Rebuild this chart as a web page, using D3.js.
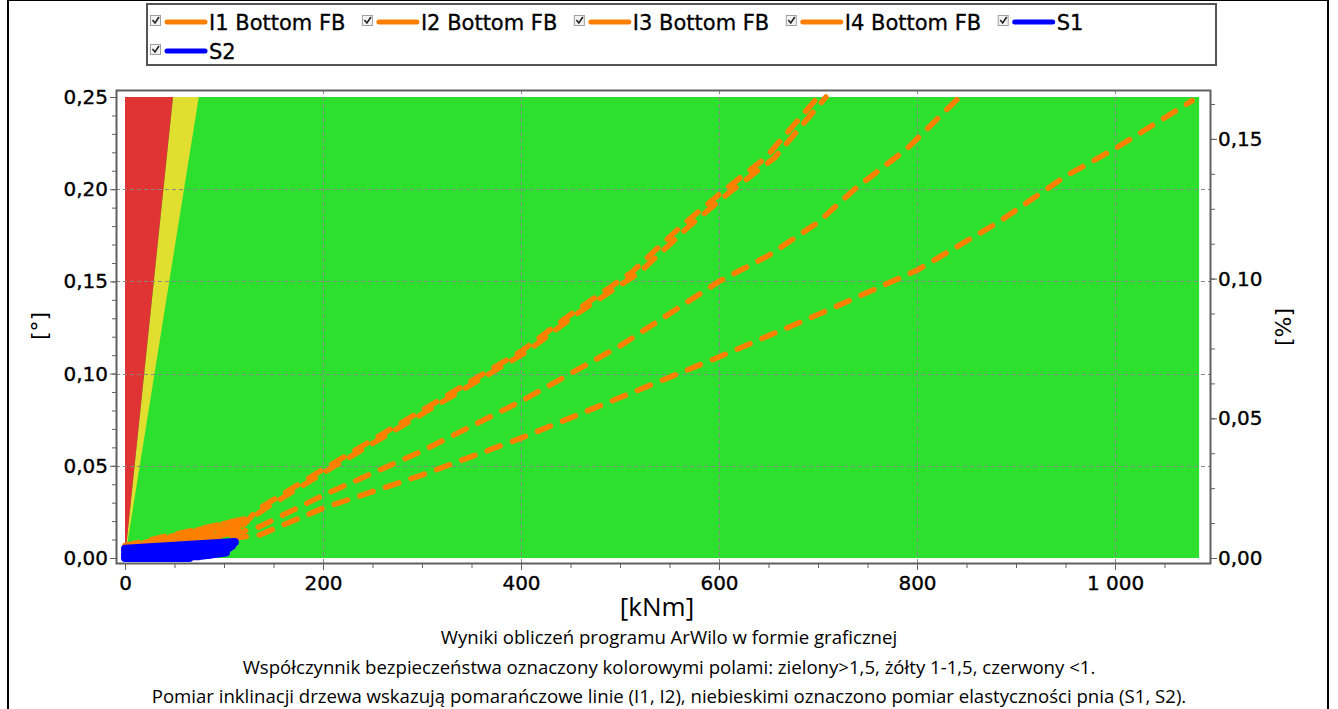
<!DOCTYPE html>
<html>
<head>
<meta charset="utf-8">
<script src="https://cdn.jsdelivr.net/npm/d3@7"></script>
<style>
  html, body { margin: 0; padding: 0; background: #fff; }
  svg { display: block; }
</style>
</head>
<body>
<div id="chart"></div>
<script>
// ---- data ----
var xTicks = [0, 200, 400, 600, 800, 1000];
var xTickLabels = ["0", "200", "400", "600", "800", "1 000"];
var yTicks = [0, 0.05, 0.10, 0.15, 0.20, 0.25];
var yTickLabels = ["0,00", "0,05", "0,10", "0,15", "0,20", "0,25"];
var y2Ticks = [0, 0.05, 0.10, 0.15];
var y2TickLabels = ["0,00", "0,05", "0,10", "0,15"];

// safety-factor zones, [kNm, deg] corners
var zoneRed = [[0, 0], [0, 0.25], [48.5, 0.25]];
var zoneYellow = [[0, 0], [48.5, 0.25], [74.5, 0.25]];
var zoneGreen = [[0, 0], [0, 0.25], [1085, 0.25], [1085, 0]];

var seriesNames = ["I1 Bottom FB", "I2 Bottom FB", "I3 Bottom FB", "I4 Bottom FB", "S1", "S2"];
var seriesColors = ["#ff8000", "#ff8000", "#ff8000", "#ff8000", "#0000ff", "#0000ff"];

// [kNm, deg]
var i1 = [[0,0.0068],[123,0.0215],[0,0.0058],[118,0.017],[8,0.0062],[112,0.0135],[130,0.024],[136,0.027],[200,0.048],[250,0.064],[300,0.080],[350,0.096],[400,0.112],[450,0.132],[512,0.155],[562,0.180],[602,0.198],[647,0.217],[700,0.250]];
var i2 = [[0,0.0062],[60,0.0125],[125,0.0205],[20,0.0075],[121,0.019],[142,0.027],[206,0.048],[306,0.080],[406,0.112],[458,0.133],[520,0.155],[570,0.180],[610,0.198],[656,0.217],[708,0.250]];
var i3 = [[0,0.0055],[60,0.0095],[120,0.0145],[136,0.017],[200,0.034],[300,0.058],[400,0.085],[500,0.115],[600,0.150],[650,0.164],[700,0.182],[737,0.200],[790,0.222],[843,0.250]];
var i4 = [[0,0.005],[50,0.0075],[105,0.0105],[136,0.0125],[200,0.027],[300,0.045],[400,0.065],[500,0.087],[600,0.109],[700,0.132],[800,0.156],[882,0.182],[950,0.207],[1000,0.222],[1078,0.248]];
var s1 = [[0,0],[65,0],[0,0.0022],[85,0.0018],[100,0.004],[0,0.0042],[108,0.0065],[0,0.005],[111,0.0087],[60,0.0068]];
var s2 = [[0,0.001],[75,0.001],[102,0.003],[20,0.003],[105,0.0055],[40,0.006],[110,0.008],[100,0.0045]];
var seriesData = [i1, i2, i3, i4, s1, s2];

var captions = [
  "Wyniki obliczeń programu ArWilo w formie graficznej",
  "Współczynnik bezpieczeństwa oznaczony kolorowymi polami: zielony>1,5, żółty 1-1,5, czerwony <1.",
  "Pomiar inklinacji drzewa wskazują pomarańczowe linie (I1, I2), niebieskimi oznaczono pomiar elastyczności pnia (S1, S2)."
];

// ---- layout ----
var width = 1338, height = 709;
var frame = {left: 116, top: 90, right: 1210, bottom: 563};
var tickFont = "'DejaVu Sans', Verdana, sans-serif";
var capFont = "'Open Sans', 'Noto Sans', sans-serif";

var svg = d3.select("#chart").append("svg")
    .attr("width", width)
    .attr("height", height);

// outer black border
svg.append("rect")
    .attr("x", 8).attr("y", 0)
    .attr("width", 1320).attr("height", 720)
    .attr("fill", "none")
    .attr("stroke", "#000")
    .attr("stroke-width", 2);

var x = d3.scaleLinear().domain([0, 1000]).range([125, 1115]);
var y = d3.scaleLinear().domain([0, 0.25]).range([558, 97]);
var y2 = d3.scaleLinear().domain([0, 0.165]).range([558, 97]);

var line = d3.line()
    .x(function(d) { return x(d[0]); })
    .y(function(d) { return y(d[1]); });

// zones
var zones = [[zoneGreen, "#2ee02e"], [zoneYellow, "#e0df30"], [zoneRed, "#e03434"]];
svg.append("g").selectAll("path")
    .data(zones)
    .enter().append("path")
    .attr("d", function(d) { return line(d[0]) + "Z"; })
    .attr("fill", function(d) { return d[1]; });

// gridlines
var grid = svg.append("g")
    .attr("stroke", "#888")
    .attr("stroke-width", 1)
    .attr("stroke-dasharray", "4,3");
grid.selectAll("line.vx")
    .data(xTicks.filter(function(d) { return d > 0; }))
    .enter().append("line")
    .attr("x1", function(d) { return Math.round(x(d)) + 0.5; })
    .attr("x2", function(d) { return Math.round(x(d)) + 0.5; })
    .attr("y1", frame.top)
    .attr("y2", frame.bottom);
grid.selectAll("line.hy")
    .data(yTicks.filter(function(d) { return d > 0 && d < 0.25; }))
    .enter().append("line")
    .attr("x1", frame.left)
    .attr("x2", frame.right)
    .attr("y1", function(d) { return Math.round(y(d)) + 0.5; })
    .attr("y2", function(d) { return Math.round(y(d)) + 0.5; });

// series
svg.append("g").selectAll("path")
    .data(seriesData)
    .enter().append("path")
    .attr("d", line)
    .attr("fill", "none")
    .attr("stroke", function(d, i) { return seriesColors[i]; })
    .attr("stroke-width", function(d, i) { return i < 4 ? 5.5 : 8; })
    .attr("stroke-linecap", "round")
    .attr("stroke-linejoin", "round")
    .attr("stroke-dasharray", function(d, i) { return i < 4 ? "14,13" : null; });

// frame
svg.append("rect")
    .attr("x", frame.left + 0.5).attr("y", frame.top + 0.5)
    .attr("width", frame.right - frame.left).attr("height", frame.bottom - frame.top)
    .attr("fill", "none")
    .attr("stroke", "#606060")
    .attr("stroke-width", 2);

// axes
function styleAxis(g) {
  g.select(".domain").remove();
  g.selectAll(".tick line").attr("stroke", "#606060");
  g.selectAll("text").attr("fill", "#000")
    .attr("stroke", "#000").attr("stroke-width", 0.35)
    .style("font-family", tickFont).style("font-size", "20px");
}

var minorX = d3.range(0, 1090, 50);
var minorY = d3.range(0, 0.2501, 0.01);
var minorY2 = d3.range(0, 0.165, 0.0125);

svg.append("g")
    .attr("transform", "translate(0," + (frame.bottom + 1) + ")")
    .call(d3.axisBottom(x).tickValues(minorX).tickSize(4).tickFormat(""))
    .call(styleAxis);
svg.append("g")
    .attr("transform", "translate(0," + (frame.bottom + 1) + ")")
    .call(d3.axisBottom(x).tickValues(xTicks).tickSize(6).tickPadding(6)
      .tickFormat(function(d, i) { return xTickLabels[i]; }))
    .call(styleAxis);

svg.append("g")
    .attr("transform", "translate(" + frame.left + ",0)")
    .call(d3.axisLeft(y).tickValues(minorY).tickSize(4).tickFormat(""))
    .call(styleAxis);
svg.append("g")
    .attr("transform", "translate(" + frame.left + ",0)")
    .call(d3.axisLeft(y).tickValues(yTicks).tickSize(6).tickPadding(2)
      .tickFormat(function(d, i) { return yTickLabels[i]; }))
    .call(styleAxis);

svg.append("g")
    .attr("transform", "translate(" + (frame.right + 1) + ",0)")
    .call(d3.axisRight(y2).tickValues(minorY2).tickSize(4).tickFormat(""))
    .call(styleAxis);
svg.append("g")
    .attr("transform", "translate(" + (frame.right + 1) + ",0)")
    .call(d3.axisRight(y2).tickValues(y2Ticks).tickSize(6).tickPadding(1)
      .tickFormat(function(d, i) { return y2TickLabels[i]; }))
    .call(styleAxis);

// axis titles
svg.append("text")
    .attr("transform", "translate(47,326) rotate(-90)")
    .attr("text-anchor", "middle")
    .style("font-family", tickFont).style("font-size", "22px")
    .text("[°]");
svg.append("text")
    .attr("transform", "translate(1291,327) rotate(-90)")
    .attr("text-anchor", "middle")
    .style("font-family", tickFont).style("font-size", "22px")
    .text("[%]");
svg.append("text")
    .attr("x", 657).attr("y", 616)
    .attr("text-anchor", "middle")
    .style("font-family", capFont).style("font-size", "26px")
    .text("[kNm]");

// captions
svg.append("g").selectAll("text")
    .data(captions)
    .enter().append("text")
    .attr("x", 669)
    .attr("y", function(d, i) { return 644 + i * 29.5; })
    .attr("text-anchor", "middle")
    .style("font-family", capFont).style("font-size", "18.6px")
    .text(function(d) { return d; });

// legend
svg.append("rect")
    .attr("x", 147).attr("y", 4)
    .attr("width", 1069).attr("height", 61)
    .attr("fill", "#fff")
    .attr("stroke", "#555")
    .attr("stroke-width", 2);

var legend = svg.append("g");
var lx = 150, ly = 22;
seriesNames.forEach(function(name, i) {
  if (i === 5) { lx = 150; ly = 51; }
  var item = legend.append("g").attr("transform", "translate(" + lx + "," + ly + ")");
  item.append("rect")
      .attr("x", 0.5).attr("y", -6.5)
      .attr("width", 10).attr("height", 10)
      .attr("fill", "#f4f4f4")
      .attr("stroke", "#a0a0a0");
  item.append("path")
      .attr("d", "M2.5,-2 L5,1 L9,-5")
      .attr("fill", "none")
      .attr("stroke", "#222")
      .attr("stroke-width", 1.6);
  item.append("line")
      .attr("x1", 17).attr("x2", 55)
      .attr("y1", 0).attr("y2", 0)
      .attr("stroke", seriesColors[i])
      .attr("stroke-width", 5)
      .attr("stroke-linecap", "round");
  var t = item.append("text")
      .attr("x", 59).attr("y", 8)
      .attr("stroke", "#000").attr("stroke-width", 0.3)
      .style("font-family", tickFont).style("font-size", "21px")
      .text(name);
  lx += 59 + t.node().getComputedTextLength() + 16.5;
});
</script>
</body>
</html>
